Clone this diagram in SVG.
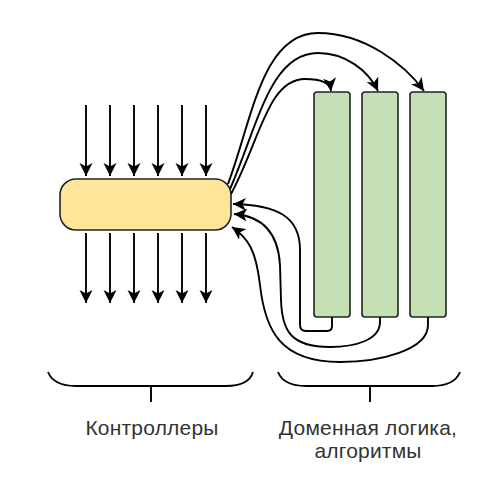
<svg xmlns="http://www.w3.org/2000/svg" width="504" height="493" viewBox="0 0 504 493">
<style>
.edge{fill:none;stroke:#000;stroke-width:1.9;marker-end:url(#arr)}
.brace{fill:none;stroke:#000;stroke-width:1.9}
.lbl{font-family:"Liberation Sans",Arial,sans-serif;font-size:21px;fill:#333;text-anchor:middle;letter-spacing:0.2px}
.green{fill:#c5e0b4;stroke:#222;stroke-width:1.6}
</style>
<defs>
<marker id="arr" markerUnits="userSpaceOnUse" markerWidth="16" markerHeight="16" refX="13" refY="6.5" orient="auto">
<path d="M0,0 L13,6.5 L0,13 L3.5,6.5 Z" fill="#000"/>
</marker>
</defs>
<rect width="504" height="493" fill="#fff"/>
<g id="controller">
<rect x="60" y="179" width="171" height="51" rx="16" ry="16" fill="#ffe599" stroke="#222" stroke-width="1.6"/>
</g>
<g id="domain1"><rect class="green" x="314" y="92" width="36" height="225" rx="3"/></g>
<g id="domain2"><rect class="green" x="362" y="92" width="36" height="225" rx="3"/></g>
<g id="domain3"><rect class="green" x="410" y="92" width="36" height="225" rx="3"/></g>
<g id="connectors">
<path class="edge" d="M86,105 L86,176"/>
<path class="edge" d="M110,105 L110,176"/>
<path class="edge" d="M134,105 L134,176"/>
<path class="edge" d="M158,105 L158,176"/>
<path class="edge" d="M182,105 L182,176"/>
<path class="edge" d="M206,105 L206,176"/>
<path class="edge" d="M86,233 L86,303"/>
<path class="edge" d="M110,233 L110,303"/>
<path class="edge" d="M134,233 L134,303"/>
<path class="edge" d="M158,233 L158,303"/>
<path class="edge" d="M182,233 L182,303"/>
<path class="edge" d="M206,233 L206,303"/>
<path class="edge" d="M228,184 C252,120 262,33 318,33 C365,33 405,65 424,91"/>
<path class="edge" d="M230,189 C258,125 270,53 318,53 C345,53 368,70 378,91"/>
<path class="edge" d="M231,194 C260,140 268,79 305,79 C320,79 330,82 331,91"/>
<path class="edge" d="M332,317 L332,326 Q332,331 327,331 L306,331 Q300,331 300,325 L300,250 C300,215 275,205 233,204"/>
<path class="edge" d="M380,317 L380,322 C380,340 355,347 330,347 C290,347 282,330 281,300 L280,265 C278,230 260,216 234,214"/>
<path class="edge" d="M428,317 L428,325 C428,350 380,362 340,362 C280,362 265,330 260,285 C256,250 248,238 232,227"/>
</g>
<g id="braces">
<path class="brace" d="M48,372 C52,382 62,386 76,386 L226,386 C240,386 250,382 253,372 M151,386 L151,402"/>
<path class="brace" d="M278,372 C282,382 292,386 306,386 L432,386 C446,386 456,382 460,372 M370,386 L370,402"/>
</g>
<g id="labels">
<text class="lbl" x="152" y="435">Контроллеры</text>
<text class="lbl" x="368" y="435">Доменная логика,</text>
<text class="lbl" x="368" y="458">алгоритмы</text>
</g>
</svg>
